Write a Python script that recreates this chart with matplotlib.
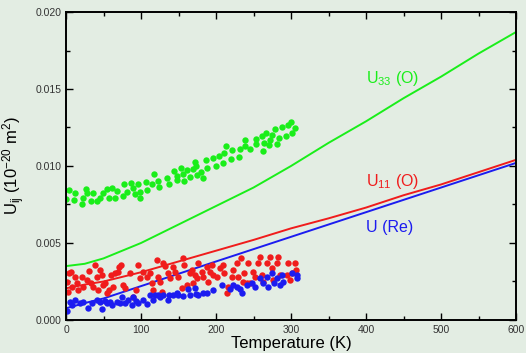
import numpy as np
import matplotlib
matplotlib.use('Agg')
import matplotlib.pyplot as plt
from matplotlib.ticker import MultipleLocator

plt.rcParams['font.family'] = ['Liberation Sans', 'DejaVu Sans']
plt.rcParams['mathtext.fontset'] = 'custom'
plt.rcParams['mathtext.rm'] = 'Liberation Sans'
plt.rcParams['mathtext.it'] = 'Liberation Sans'

# fitted curves
T_fit = [0, 25, 50, 75, 100, 125, 150, 175, 200, 250, 300, 350, 400, 450, 500, 550, 600]
U33_fit = [0.0035, 0.00365, 0.0040, 0.0045, 0.0050, 0.0056, 0.0062, 0.0068, 0.0074, 0.0086,
           0.0100, 0.0115, 0.0129, 0.0144, 0.0158, 0.0173, 0.0187]
U11_fit = [0.00206, 0.0023, 0.0025, 0.0028, 0.0031, 0.00345, 0.0038, 0.00415, 0.0045, 0.0052,
           0.00595, 0.0066, 0.0073, 0.0081, 0.0088, 0.0096, 0.0104]
URe_fit = [0.00076, 0.0011, 0.0014, 0.0018, 0.0022, 0.0026, 0.0030, 0.0034, 0.0038, 0.0046,
           0.0054, 0.0062, 0.0070, 0.0078, 0.0086, 0.0094, 0.0102]

# measured U33 (O)
T_33 = [0, 4.4, 12, 10.7, 20.9, 22.2, 26.7, 27.6, 32.9, 36.4, 40.9, 45.3, 48.9, 54.2, 57.3,
        60.9, 65.3, 67.6, 76.4, 77.8, 80.9, 86.7, 89.8, 92, 95.6, 98.7, 99.1, 106.7, 108.4,
        114.2, 116.9, 123.1, 124, 135.1, 137.8, 144.4, 147.6, 148, 152.9, 155.6, 157.8, 160.9,
        165.3, 168.9, 172, 173.3, 174.2, 179.6, 183.1, 186.7, 188.4, 195.6, 200, 204.4, 208.9,
        211.1, 212.9, 219.6, 221.8, 231.1, 232, 238.7, 238.7, 245.3, 252.9, 253.3, 260.9,
        262.7, 264, 266.7, 271.1, 272, 274.2, 278.7, 280.9, 284, 288.4, 293.3, 296.4, 299.6,
        300.9, 305.8]
U_33 = [0.00784, 0.00844, 0.00823, 0.00779, 0.00753, 0.00794, 0.00848, 0.00823, 0.00771,
        0.00823, 0.00775, 0.00794, 0.00827, 0.00853, 0.00794, 0.00859, 0.00794, 0.00840,
        0.00805, 0.00883, 0.00833, 0.00887, 0.00855, 0.00818, 0.00881, 0.00831, 0.00790,
        0.00898, 0.00842, 0.00881, 0.00948, 0.00903, 0.00864, 0.00920, 0.00881, 0.00970,
        0.00935, 0.00907, 0.00989, 0.00948, 0.00905, 0.00974, 0.00927, 0.00978, 0.01028,
        0.01002, 0.00942, 0.00963, 0.00920, 0.01039, 0.00985, 0.01050, 0.01000, 0.01065,
        0.01021, 0.01086, 0.01130, 0.01045, 0.01102, 0.01061, 0.01108, 0.01169, 0.01130,
        0.01108, 0.01175, 0.01143, 0.01195, 0.01095, 0.01152, 0.01212, 0.01134, 0.01169,
        0.01201, 0.01240, 0.01141, 0.01184, 0.01255, 0.01197, 0.01266, 0.01288, 0.01216,
        0.01247]

# measured U11 (O)
T_11 = [1.8, 3.1, 4.4, 6.2, 7.6, 12.0, 14.2, 16.4, 20.9, 23.1, 27.6, 31.1, 32.9, 36.4, 38.7,
        40.9, 43.1, 45.3, 47.6, 49.8, 52.0, 55.1, 57.8, 60.0, 63.1, 65.3, 68.9, 71.1, 73.3,
        75.6, 78.7, 85.3, 88.9, 93.3, 96.4, 98.7, 103.1, 107.6, 112.0, 114.2, 116.4, 120.9,
        123.1, 125.3, 127.6, 129.8, 132.0, 136.4, 138.7, 142.2, 145.3, 149.8, 154.2, 156.4,
        157.8, 160.9, 165.3, 167.6, 169.8, 172.0, 174.2, 176.4, 181.1, 183.1, 187.6, 189.8,
        192.0, 194.2, 196.4, 200.9, 205.3, 208.9, 210.7, 214.2, 216.4, 220.9, 223.1, 227.6,
        229.8, 232.9, 236.4, 237.8, 240.9, 243.1, 245.3, 249.8, 252.0, 256.4, 258.7, 260.9,
        263.1, 267.6, 272.0, 274.2, 276.4, 280.9, 283.1, 285.3, 294.2, 296.4, 298.7, 300.9,
        305.3, 306.7]
U_11 = [0.00249, 0.00184, 0.00303, 0.00314, 0.00216, 0.00281, 0.00238, 0.00195, 0.00281,
        0.00216, 0.00260, 0.00320, 0.00238, 0.00216, 0.00357, 0.00281, 0.00195, 0.00325,
        0.00292, 0.00227, 0.00238, 0.00173, 0.00195, 0.00292, 0.00216, 0.00303, 0.00314,
        0.00346, 0.00357, 0.00227, 0.00206, 0.00303, 0.00152, 0.00195, 0.00357, 0.00271,
        0.00314, 0.00281, 0.00303, 0.00238, 0.00195, 0.00390, 0.00277, 0.00249, 0.00184,
        0.00368, 0.00351, 0.00303, 0.00271, 0.00346, 0.00314, 0.00277, 0.00206, 0.00400,
        0.00357, 0.00227, 0.00303, 0.00325, 0.00238, 0.00292, 0.00271, 0.00368, 0.00314,
        0.00281, 0.00346, 0.00249, 0.00314, 0.00357, 0.00292, 0.00281, 0.00336, 0.00357,
        0.00303, 0.00173, 0.00216, 0.00281, 0.00325, 0.00368, 0.00281, 0.00400, 0.00249,
        0.00303, 0.00238, 0.00368, 0.00238, 0.00314, 0.00281, 0.00368, 0.00411, 0.00292,
        0.00249, 0.00368, 0.00411, 0.00336, 0.00260, 0.00368, 0.00411, 0.00292, 0.00292,
        0.00368, 0.00260, 0.00303, 0.00368, 0.00325]

# measured U (Re)
T_Re = [1.8, 5.3, 7.6, 12.0, 18.7, 22.2, 29.8, 34.2, 40.9, 45.3, 47.6, 52.0, 54.2, 58.7,
        60.9, 67.6, 72.0, 74.2, 78.7, 83.1, 87.6, 89.8, 93.3, 96.4, 103.1, 107.6, 112.0,
        116.4, 118.7, 123.1, 125.3, 129.8, 136.4, 137.8, 143.1, 147.6, 149.8, 156.4, 163.1,
        165.3, 172.0, 173.3, 176.4, 183.1, 187.6, 196.4, 207.6, 218.7, 223.1, 227.6, 232.0,
        234.2, 240.9, 247.6, 252.0, 258.7, 263.1, 267.6, 269.8, 274.2, 277.3, 280.9, 285.3,
        287.6, 289.8, 300.9, 307.6, 308.4]
U_Re = [0.00061, 0.00119, 0.00097, 0.00130, 0.00108, 0.00119, 0.00076, 0.00108, 0.00130,
        0.00119, 0.00071, 0.00126, 0.00108, 0.00119, 0.00097, 0.00119, 0.00108, 0.00152,
        0.00108, 0.00130, 0.00097, 0.00152, 0.00126, 0.00108, 0.00130, 0.00104, 0.00162,
        0.00130, 0.00162, 0.00162, 0.00152, 0.00162, 0.00130, 0.00162, 0.00162, 0.00173,
        0.00162, 0.00156, 0.00199, 0.00162, 0.00206, 0.00169, 0.00162, 0.00177, 0.00173,
        0.00195, 0.00227, 0.00199, 0.00227, 0.00216, 0.00199, 0.00173, 0.00227, 0.00238,
        0.00216, 0.00271, 0.00238, 0.00281, 0.00216, 0.00303, 0.00238, 0.00271, 0.00227,
        0.00292, 0.00249, 0.00303, 0.00292, 0.00271]

green = '#1aee1a'
red = '#f01c1c'
blue = '#1c1cf0'
bg = '#e3ede3'

fig = plt.figure(figsize=(5.26, 3.53), dpi=100, facecolor=bg)
ax = fig.add_axes([0.1255, 0.0935, 0.8555, 0.8725], facecolor=bg)

ax.plot(T_fit, U33_fit, color=green, lw=1.4)
ax.plot(T_fit, U11_fit, color=red, lw=1.4)
ax.plot(T_fit, URe_fit, color=blue, lw=1.4)
ax.plot(T_33, U_33, 'o', color=green, ms=4.6, mec='none')
ax.plot(T_11, U_11, 'o', color=red, ms=4.6, mec='none')
ax.plot(T_Re, U_Re, 'o', color=blue, ms=4.6, mec='none')

ax.text(400, 0.0154, 'U$_{33}$ (O)', color=green, fontsize=11.5)
ax.text(400, 0.0087, 'U$_{11}$ (O)', color=red, fontsize=11.5)
ax.text(400, 0.0057, 'U (Re)', color=blue, fontsize=11.5)

ax.set_xlim(0, 600)
ax.set_ylim(0, 0.020)
ax.xaxis.set_major_locator(MultipleLocator(100))
ax.xaxis.set_minor_locator(MultipleLocator(50))
ax.yaxis.set_major_locator(MultipleLocator(0.005))
ax.yaxis.set_minor_locator(MultipleLocator(0.0025))
ax.yaxis.set_major_formatter(matplotlib.ticker.FormatStrFormatter('%.3f'))
ax.tick_params(which='both', direction='in', top=True, right=True, labelsize=7.5,
               labelcolor='#333333', width=1)
ax.tick_params(which='major', length=5)
ax.tick_params(which='minor', length=3)
for s in ax.spines.values():
    s.set_linewidth(1.4)

ax.set_xlabel('Temperature (K)', fontsize=12, labelpad=1)
ax.set_ylabel('U$_{ij}$ (10$^{-20}$ m$^{2}$)', fontsize=12, labelpad=6)

fig.savefig('out.png', dpi=100, facecolor=bg)
